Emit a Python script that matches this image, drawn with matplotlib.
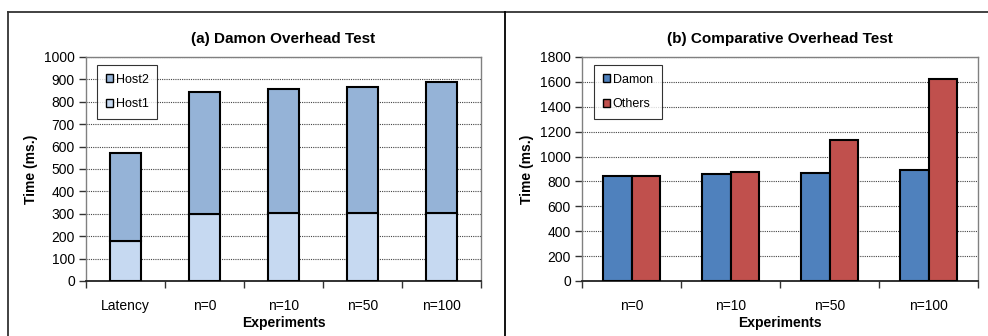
import numpy as np
import matplotlib
matplotlib.use("Agg")
import matplotlib.pyplot as plt
from matplotlib.lines import Line2D
from matplotlib.ticker import FixedLocator, NullFormatter

plt.rcParams['font.family'] = ['Liberation Sans', 'DejaVu Sans']

# Panel (a): stacked host times
cats_a = ["Latency", "n=0", "n=10", "n=50", "n=100"]
host1 = [180, 299, 305, 305, 305]
host2_total = [572, 845, 857, 867, 890]
host2 = [t - h for t, h in zip(host2_total, host1)]

# Panel (b): Damon vs others
cats_b = ["n=0", "n=10", "n=50", "n=100"]
damon = [845, 857, 867, 890]
others = [845, 873, 1130, 1625]

C_HOST1 = "#C6D9F1"
C_HOST2 = "#95B3D7"
C_DAMON = "#4F81BD"
C_OTHERS = "#C0504D"
FRAME = "#808080"

fig = plt.figure(figsize=(9.88, 3.36), dpi=100)

# outer panel borders
W, H = 988, 336
def fx(x): return x / W
def fy(y): return 1 - y / H
fig.add_artist(Line2D([fx(8), 1], [fy(12), fy(12)], color="#333333", lw=1.3))
fig.add_artist(Line2D([fx(8), fx(8)], [fy(12), 0], color="#333333", lw=1.3))
fig.add_artist(Line2D([fx(505), fx(505)], [fy(12), 0], color="#000000", lw=1.3))

ax1 = fig.add_axes([fx(86), fy(281), (481 - 86) / W, (281 - 57) / H])
ax2 = fig.add_axes([fx(582), fy(281), (978 - 582) / W, (281 - 57) / H])


def style_axes(ax, ncat, ymax, ystep, cats, title):
    ax.set_xlim(-0.5, ncat - 0.5)
    ax.set_ylim(0, ymax)
    ax.set_yticks(np.arange(0, ymax + 1, ystep))
    ax.yaxis.grid(True, linestyle=(0, (1, 1)), color="#444444", lw=0.8)
    ax.set_axisbelow(True)
    ax.xaxis.set_major_locator(FixedLocator(np.arange(-0.5, ncat, 1.0)))
    ax.xaxis.set_major_formatter(NullFormatter())
    ax.xaxis.set_minor_locator(FixedLocator(np.arange(ncat)))
    ax.set_xticklabels(cats, minor=True)
    ax.tick_params(axis="x", which="major", direction="out", length=5, width=1, color="#333333")
    ax.tick_params(axis="x", which="minor", length=0, pad=13, labelsize=10)
    ax.tick_params(axis="y", direction="out", length=5, width=1, color="#333333",
                   labelsize=10, pad=3)
    for s in ("top", "right", "left"):
        ax.spines[s].set_color(FRAME)
        ax.spines[s].set_linewidth(1.0)
    ax.spines["bottom"].set_color("#222222")
    ax.spines["bottom"].set_linewidth(1.3)
    ax.set_xlabel("Experiments", fontsize=10, fontweight="bold", labelpad=2)
    ax.set_ylabel("Time (ms.)", fontsize=10, fontweight="bold", labelpad=4)
    ax.set_title(title, fontsize=11, fontweight="bold", pad=10)


def style_legend(leg):
    leg.get_frame().set_linewidth(0.8)
    for p in leg.get_patches():
        p.set_linewidth(1.0)


x_a = np.arange(len(cats_a))
ax1.bar(x_a, host1, width=0.4, color=C_HOST1, edgecolor="black", lw=1.5, label="Host1", zorder=3)
ax1.bar(x_a, host2, bottom=host1, width=0.4, color=C_HOST2, edgecolor="black", lw=1.5,
        label="Host2", zorder=3)
style_axes(ax1, len(cats_a), 1000, 100, cats_a, "(a) Damon Overhead Test")
h, l = ax1.get_legend_handles_labels()
leg1 = ax1.legend(h[::-1], l[::-1], loc="upper left", bbox_to_anchor=(0.028, 0.965),
                  fontsize=9, frameon=True, fancybox=False, edgecolor="black",
                  handlelength=0.6, handleheight=0.6, handletextpad=0.2,
                  labelspacing=1.0, borderpad=0.7, borderaxespad=0)
style_legend(leg1)

x_b = np.arange(len(cats_b))
bw = 0.287
ax2.bar(x_b - bw / 2, damon, width=bw, color=C_DAMON, edgecolor="black", lw=1.5,
        label="Damon", zorder=3)
ax2.bar(x_b + bw / 2, others, width=bw, color=C_OTHERS, edgecolor="black", lw=1.5,
        label="Others", zorder=3)
style_axes(ax2, len(cats_b), 1800, 200, cats_b, "(b) Comparative Overhead Test")
leg2 = ax2.legend(loc="upper left", bbox_to_anchor=(0.03, 0.965),
                  fontsize=9, frameon=True, fancybox=False, edgecolor="black",
                  handlelength=0.6, handleheight=0.6, handletextpad=0.2,
                  labelspacing=1.0, borderpad=0.7, borderaxespad=0)
style_legend(leg2)

fig.savefig("out.png", dpi=100)
